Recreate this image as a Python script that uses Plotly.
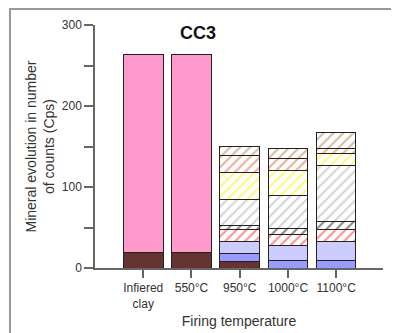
import plotly.graph_objects as go

categories = ["Infiered<br>clay", "550°C", "950°C", "1000°C", "1100°C"]

# stacked segments, bottom to top (Cps)
brown_solid = [19, 19, 8.6, None, None]
pink = [244, 245, None, None, None]
blue_mid = [None, None, 9.4, 9, 9]
blue_light = [None, None, 15.3, 19, 23.5]
red_hatch = [None, None, 13.7, 13.6, 15.3]
black_hatch = [None, None, 4.9, 7.4, 10.2]
gray_hatch = [None, None, 32.1, 40.3, 69]
yellow_hatch = [None, None, 34, 30.5, 14.6]
orange_hatch = [None, None, 20.6, 14.8, 6.4]
tan_hatch = [None, None, 12, 12.4, 19]

y_ticks = [0, 100, 200, 300]

series = [
    (brown_solid, "#663333", None),
    (pink, "#FF99CC", None),
    (blue_mid, "#9999FF", None),
    (blue_light, "#CCCCFF", None),
    (red_hatch, "#FF2222", "/"),
    (black_hatch, "#111111", "/"),
    (gray_hatch, "#AAAAAA", "/"),
    (yellow_hatch, "#FFEE00", "/"),
    (orange_hatch, "#D85A38", "/"),
    (tan_hatch, "#A87850", "/"),
]

fig = go.Figure()
for vals, col, pat in series:
    if pat is None:
        marker = dict(color=col, line=dict(color="#222222", width=1))
    else:
        marker = dict(color="white", line=dict(color="#222222", width=1),
                      pattern=dict(shape=pat, fgcolor=col, bgcolor="white",
                                   size=7, solidity=0.3, fillmode="overlay"))
    fig.add_trace(go.Bar(x=categories, y=vals, marker=marker, width=0.82,
                         showlegend=False, hoverinfo="skip"))

W, H = 391, 325
L, R, T, B = 87, 16, 17, 65
PW, PH = W - L - R, H - T - B

fig.update_layout(
    barmode="stack",
    width=W, height=H,
    margin=dict(l=L, r=R, t=T, b=B, autoexpand=False),
    paper_bgcolor="white", plot_bgcolor="white",
    font=dict(family="Liberation Sans, Arial, sans-serif", color="#333333", size=12),
    xaxis=dict(range=[-1, 4.97], showline=True, linecolor="#666666", linewidth=1.5,
               ticks="outside", ticklen=8, tickcolor="#666666", tickwidth=1.5,
               tickfont=dict(size=12), showgrid=False, zeroline=False, automargin=False,
               title=dict(text="Firing temperature", font=dict(size=14), standoff=6)),
    yaxis=dict(range=[0, 300], tickvals=y_ticks, showline=True, linecolor="#666666",
               linewidth=1.5, ticks="outside", ticklen=9, tickcolor="#666666",
               tickwidth=1.5, tickfont=dict(size=12), showgrid=False, zeroline=False,
               automargin=False,
               minor=dict(dtick=50, ticks="outside", ticklen=9, tickcolor="#666666", tickwidth=1.5),
               title=dict(text="Mineral evolution in number<br>of counts (Cps)",
                          font=dict(size=14), standoff=4)),
    annotations=[dict(text="<b>CC3</b>", x=0.358, y=0.967, xref="paper", yref="paper",
                      showarrow=False, font=dict(size=18, color="#111111"),
                      xanchor="center", yanchor="middle")],
    shapes=[
        dict(type="rect", xref="paper", yref="paper", layer="above",
             x0=(2 - L) / PW, x1=(W + 20 - L) / PW,
             y0=(PH + T - (H + 20)) / PH, y1=(PH + T - 1) / PH,
             line=dict(color="#999999", width=2), fillcolor="rgba(0,0,0,0)"),
    ],
)

fig.write_html("out.html")
